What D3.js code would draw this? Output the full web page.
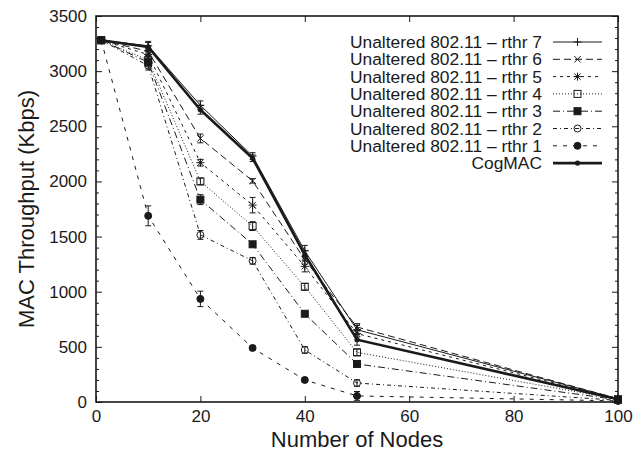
<!DOCTYPE html>
<html>
<head>
<meta charset="utf-8">
<script src="https://cdnjs.cloudflare.com/ajax/libs/d3/7.8.5/d3.min.js"></script>
<style>
	body { margin: 0; background: #fff; }
	svg text { font-family: "Liberation Sans", Arial, Helvetica, sans-serif; fill: #1a1a1a; }
</style>
</head>
<body>
<svg id="chart" width="642" height="454"></svg>
<script>

// data
var nodes = [1, 10, 20, 30, 40, 50, 100];

var seriesNames = [
	"Unaltered 802.11 \u2013 rthr 7",
	"Unaltered 802.11 \u2013 rthr 6",
	"Unaltered 802.11 \u2013 rthr 5",
	"Unaltered 802.11 \u2013 rthr 4",
	"Unaltered 802.11 \u2013 rthr 3",
	"Unaltered 802.11 \u2013 rthr 2",
	"Unaltered 802.11 \u2013 rthr 1",
	"CogMAC"
];

var rthr7 = [3280, 3230, 2690, 2230, 1370, 655, 30];
var rthr6 = [3280, 3180, 2390, 2005, 1290, 680, 30];
var rthr5 = [3280, 3150, 2170, 1785, 1230, 620, 28];
var rthr4 = [3280, 3100, 2000, 1595, 1045, 450, 25];
var rthr3 = [3280, 3080, 1835, 1430, 800, 345, 20];
var rthr2 = [3280, 3050, 1515, 1280, 472, 172, 15];
var rthr1 = [3280, 1688, 935, 490, 200, 55, 10];
var cogmac = [3280, 3220, 2650, 2210, 1335, 565, 25];

var err7 = [20, 40, 40, 30, 50, 40, 10];
var err6 = [20, 40, 40, 20, 40, 30, 10];
var err5 = [20, 40, 30, 70, 50, 30, 10];
var err4 = [20, 40, 30, 40, 30, 30, 10];
var err3 = [20, 40, 45, 20, 20, 20, 10];
var err2 = [20, 40, 40, 30, 30, 30, 10];
var err1 = [20, 90, 70, 20, 20, 40, 5];
var errC = [20, 40, 40, 30, 40, 50, 10];

var yTicks = [0, 500, 1000, 1500, 2000, 2500, 3000, 3500];
var xTicks = [0, 20, 40, 60, 80, 100];

var series = [
	{name: seriesNames[0], values: rthr7, errors: err7, dash: null, marker: "plus", width: 1},
	{name: seriesNames[1], values: rthr6, errors: err6, dash: "7,4", marker: "cross", width: 1},
	{name: seriesNames[2], values: rthr5, errors: err5, dash: "3,4", marker: "star", width: 1},
	{name: seriesNames[3], values: rthr4, errors: err4, dash: "1,2", marker: "box", width: 1},
	{name: seriesNames[4], values: rthr3, errors: err3, dash: "7,3,1,3", marker: "boxFilled", width: 1},
	{name: seriesNames[5], values: rthr2, errors: err2, dash: "4,3,1,3", marker: "circle", width: 1},
	{name: seriesNames[6], values: rthr1, errors: err1, dash: "4,6", marker: "circleFilled", width: 1},
	{name: seriesNames[7], values: cogmac, errors: errC, dash: null, marker: "dot", width: 2.6}
];

var svg = d3.select("#chart");

var plotLeft = 96, plotRight = 618, plotTop = 16, plotBottom = 402;

var x = d3.scaleLinear().domain([0, 100]).range([plotLeft, plotRight]);
var y = d3.scaleLinear().domain([0, 3500]).range([plotBottom, plotTop]);

var ink = "#1a1a1a";

// axes (ticks inward, gnuplot style)
function styleAxis(g) {
	g.select(".domain").remove();
	g.selectAll(".tick line").attr("stroke", ink).attr("stroke-width", 1);
	g.selectAll(".tick text").style("font-size", "17px");
}

svg.append("g")
	.attr("transform", "translate(0," + plotBottom + ")")
	.call(d3.axisBottom(x).tickValues(xTicks).tickSize(-6).tickPadding(8))
	.call(styleAxis);

svg.append("g")
	.attr("transform", "translate(0," + plotTop + ")")
	.call(d3.axisTop(x).tickValues(xTicks).tickSize(-6).tickFormat(""))
	.call(styleAxis);

svg.append("g")
	.attr("transform", "translate(" + plotLeft + ",0)")
	.call(d3.axisLeft(y).tickValues(yTicks).tickSize(-6).tickPadding(9).tickFormat(d3.format("d")))
	.call(styleAxis);

svg.append("g")
	.attr("transform", "translate(" + plotRight + ",0)")
	.call(d3.axisRight(y).tickValues(yTicks).tickSize(-6).tickFormat(""))
	.call(styleAxis);

var minor = d3.range(0, 3501, 100).filter(function (v) { return v % 500 != 0; });

svg.append("g")
	.attr("transform", "translate(" + plotLeft + ",0)")
	.call(d3.axisLeft(y).tickValues(minor).tickSize(-3).tickFormat(""))
	.call(styleAxis);

svg.append("g")
	.attr("transform", "translate(" + plotRight + ",0)")
	.call(d3.axisRight(y).tickValues(minor).tickSize(-3).tickFormat(""))
	.call(styleAxis);

svg.append("rect")
	.attr("x", plotLeft).attr("y", plotTop)
	.attr("width", plotRight - plotLeft).attr("height", plotBottom - plotTop)
	.attr("fill", "none")
	.attr("stroke", ink)
	.attr("stroke-width", 1.6);

// axis titles
svg.append("text")
	.attr("x", (plotLeft + plotRight) / 2)
	.attr("y", 447)
	.attr("text-anchor", "middle")
	.style("font-size", "22px")
	.text("Number of Nodes");

svg.append("text")
	.attr("transform", "translate(34," + ((plotTop + plotBottom) / 2) + ") rotate(-90)")
	.attr("text-anchor", "middle")
	.style("font-size", "22px")
	.text("MAC Throughput (Kbps)");

// markers
function drawMarker(g, type, cx, cy) {

	var s = 4;

	if(type == "plus" || type == "star") {
		g.append("path")
		.attr("d", "M" + (cx - s) + "," + cy + "H" + (cx + s) + "M" + cx + "," + (cy - s) + "V" + (cy + s))
		.attr("stroke", ink).attr("stroke-width", 1);
	}
	if(type == "cross" || type == "star") {
		var c = 3.2;
		g.append("path")
		.attr("d", "M" + (cx - c) + "," + (cy - c) + "L" + (cx + c) + "," + (cy + c) + "M" + (cx - c) + "," + (cy + c) + "L" + (cx + c) + "," + (cy - c))
		.attr("stroke", ink).attr("stroke-width", 1);
	}
	if(type == "box" || type == "boxFilled") {
		g.append("rect")
		.attr("x", cx - 3.5).attr("y", cy - 3.5)
		.attr("width", 7).attr("height", 7)
		.attr("fill", type == "boxFilled" ? ink : "none")
		.attr("stroke", ink).attr("stroke-width", 1);
	}
	if(type == "circle" || type == "circleFilled") {
		g.append("circle")
		.attr("cx", cx).attr("cy", cy).attr("r", 3.5)
		.attr("fill", type == "circleFilled" ? ink : "none")
		.attr("stroke", ink).attr("stroke-width", 1);
	}
	if(type == "dot") {
		g.append("circle")
		.attr("cx", cx).attr("cy", cy).attr("r", 2.6)
		.attr("fill", ink);
	}
}

var line = d3.line()
	.x(function (d) { return x(d[0]); })
	.y(function (d) { return y(d[1]); });

// draw from rthr 1 up so that CogMAC sits on top
series.slice().reverse().forEach(function (s) {

	var g = svg.append("g");

	var pts = nodes.map(function (n, i) { return [n, s.values[i], s.errors[i]]; });

	g.append("path")
	.datum(pts)
	.attr("d", line)
	.attr("fill", "none")
	.attr("stroke", ink)
	.attr("stroke-width", s.width)
	.attr("stroke-dasharray", s.dash);

	pts.forEach(function (p) {

		var cx = x(p[0]);
		var y0 = y(p[1] - p[2]), y1 = y(p[1] + p[2]);

		g.append("path")
		.attr("d", "M" + cx + "," + y0 + "V" + y1 +
			"M" + (cx - 3) + "," + y0 + "H" + (cx + 3) +
			"M" + (cx - 3) + "," + y1 + "H" + (cx + 3))
		.attr("stroke", ink)
		.attr("stroke-width", 1);

		drawMarker(g, s.marker, cx, y(p[1]));
	});
});

// legend
var legend = svg.append("g");

series.forEach(function (s, i) {

	var ly = 42 + i * 17.3;

	legend.append("text")
	.attr("x", 542)
	.attr("y", ly)
	.attr("dy", "0.35em")
	.attr("text-anchor", "end")
	.style("font-size", "17.4px")
	.text(s.name);

	legend.append("line")
	.attr("x1", 553).attr("x2", 602)
	.attr("y1", ly).attr("y2", ly)
	.attr("stroke", ink)
	.attr("stroke-width", s.width)
	.attr("stroke-dasharray", s.dash);

	drawMarker(legend, s.marker, 577.5, ly);
});

</script>
</body>
</html>
